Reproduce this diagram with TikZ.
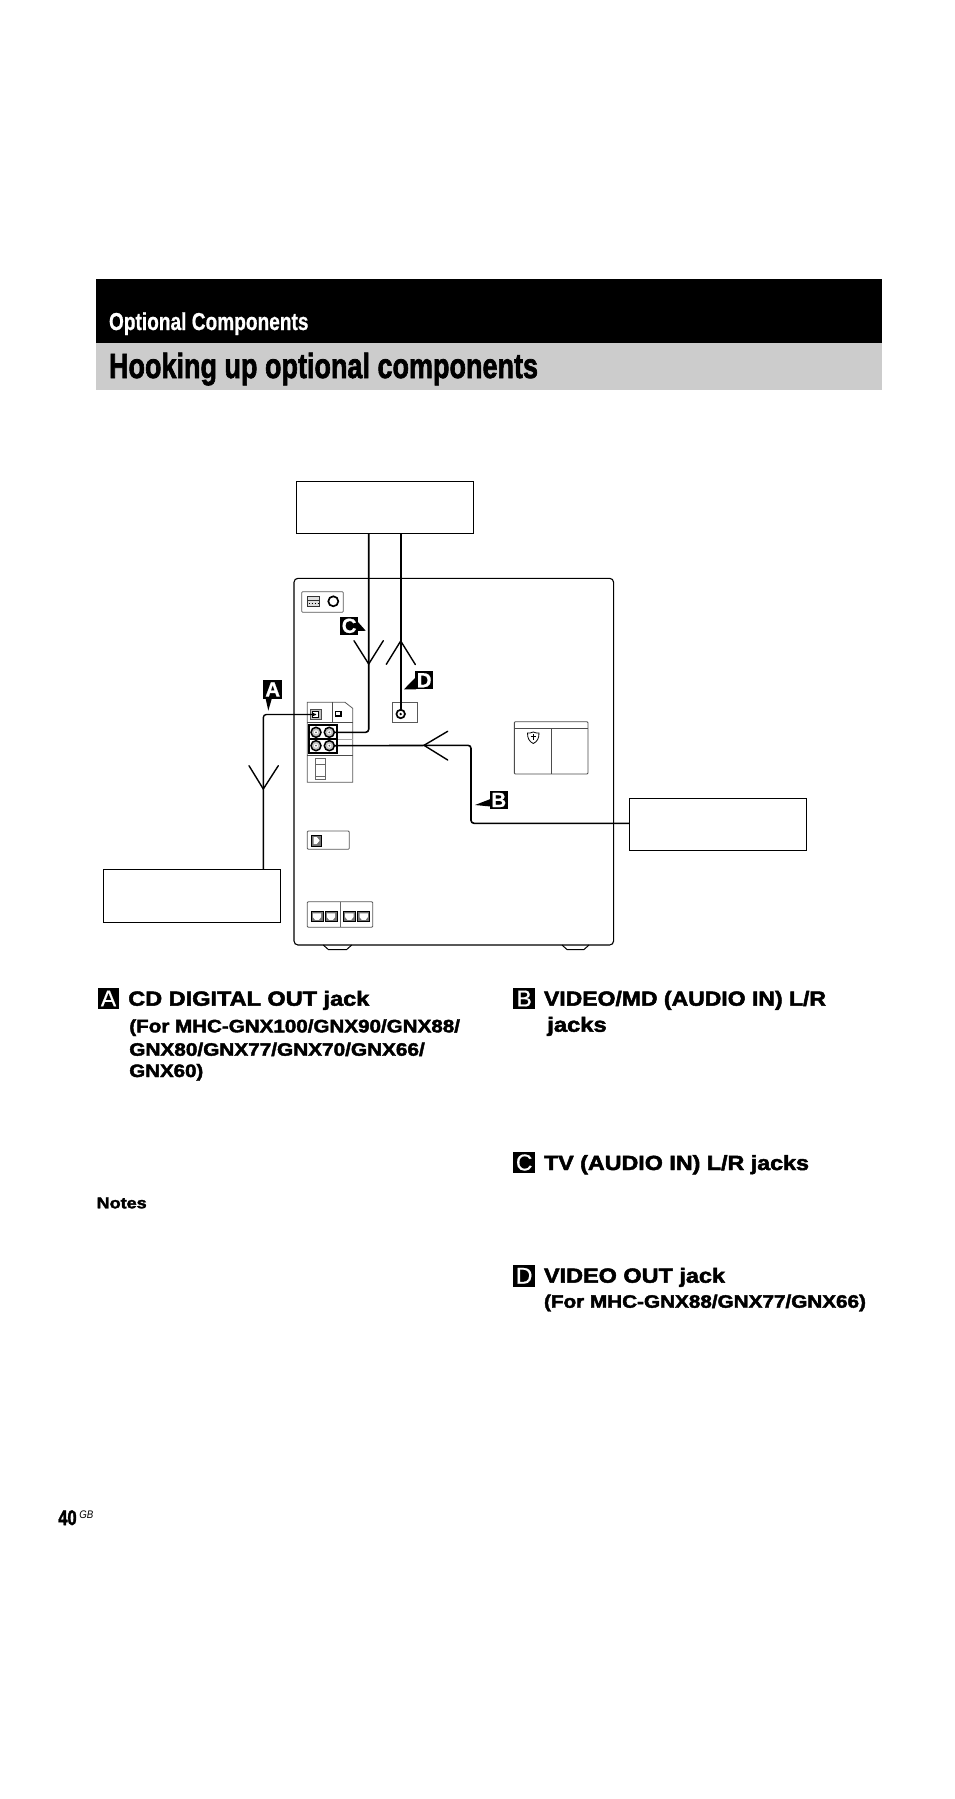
\documentclass[tikz,border=0pt]{standalone}
\usepackage{graphicx}
\usepackage{fontspec}
\setmainfont{Liberation Sans}
\newfontfamily\headf{Liberation Sans}[FakeBold=2.2]
\newfontfamily\condf{Liberation Sans}[FakeBold=0.8]
\newfontfamily\labf{Liberation Sans}[FakeBold=0.6]
\newcommand{\fitw}[2]{\resizebox{#1pt}{\height}{#2}}
\tikzset{
  x=1pt,y=-1pt,
  txt/.style={anchor=base west,inner sep=0pt,outer sep=0pt},
  hd/.style={txt,font=\headf\bfseries\fontsize{20.5}{20.5}\selectfont},
  sub/.style={txt,font=\headf\bfseries\fontsize{18}{18}\selectfont},
  boxo/.style={draw=black,line width=1pt,inner sep=0pt,outer sep=0pt},
  blank/.style={boxo,fill=white},
  panel/.style={draw=black!65,line width=.8pt,rounded corners=1pt},
  cable/.style={draw=black,line width=1.6pt,rounded corners=3pt},
  vee/.style={draw=black,line width=1.4pt,line cap=round,line join=miter},
  jack/.style={circle,draw=black,line width=1.1pt,inner sep=0pt,outer sep=0pt},
  lab/.style={fill=black,text=white,inner sep=0pt,outer sep=0pt,font=\labf\bfseries\fontsize{20.5}{20.5}\selectfont,anchor=center},
  key/.style={lab,minimum size=21.6pt,font=\labf\fontsize{23}{23}\selectfont},
  tag/.style={lab,minimum size=18.5pt},
}
\begin{document}
\begin{tikzpicture}
\useasboundingbox (0,0) rectangle (954,1799);
% header
\fill[black] (96,278.7) rectangle (882,343);
\fill[black!20] (96,343) rectangle (882,390);
\node[txt,text=white,font=\condf\bfseries\fontsize{24.5}{24.5}\selectfont] (h1) at (109,330) {\fitw{199.5}{Optional Components}};
\node[txt,font=\headf\bfseries\fontsize{35}{35}\selectfont] (h2) at (109,378) {\fitw{429}{Hooking up optional components}};
% external boxes
\node[blank,minimum width=177.7pt,minimum height=51.6pt] (tv) at (384.9,507.5) {};
\node[blank,minimum width=176.6pt,minimum height=52.7pt] (vid) at (718,824.6) {};
\node[blank,minimum width=176.8pt,minimum height=52.8pt] (cd) at (191.6,895.8) {};
% main unit
\draw[line width=1.1pt,rounded corners=4pt,fill=white] (294,578.3) rectangle (613.6,945);
\draw[line width=1pt] (323.3,945) -- (328.3,949.5) -- (346.7,949.5) -- (351.7,945);
\draw[line width=1pt] (562,945) -- (567,949.5) -- (584,949.5) -- (589,945);
% top-left small panel
\draw[panel] (301.7,591.7) rectangle (343.3,612.3);
\draw[line width=.8pt,draw=black!80,fill=black!12] (307,596) rectangle (319,606);
\draw[line width=.7pt,draw=black!80] (307,600.5) -- (319,600.5);
\draw[line width=1.1pt,dash pattern=on 1.5pt off 1.5pt] (308.5,603.5) -- (318,603.5);
\node[jack,line width=1.7pt,minimum size=10pt] (ring) at (333.3,601.3) {};
% rear panel group
\draw[panel,rounded corners=0pt] (307.3,702.3) -- (345,702.3) -- (352.7,708.3) -- (352.7,782.3) -- (307.3,782.3) -- cycle;
\draw[draw=black!70,line width=.8pt] (332.3,702.3) -- (332.3,722.3) (307.3,722.3) -- (352.7,722.3) (307.3,755) -- (352.7,755);
\draw[draw=black!35,line width=.8pt] (337.3,739) -- (352.7,739);
\draw[draw=black!70,line width=.9pt,fill=black!25] (310,709) rectangle (321,719);
\draw[line width=.8pt,fill=white] (312,711) rectangle (318.5,717);
\node[draw=black,line width=1.4pt,minimum width=5.5pt,minimum height=4.5pt,inner sep=0pt] (sq) at (338.3,713.7) {};
\draw[line width=1.7pt,fill=white] (309.3,725) rectangle (337.3,752.7);
\draw[line width=1.5pt] (309.3,739) -- (337.3,739);
\foreach \n/\x/\y in {a/316/732.3,b/329.3/732.3,c/316/745.7,d/329.3/745.7}{
  \node[jack,line width=1.5pt,minimum size=10pt,fill=black!25] (rca\n) at (\x,\y) {};
  \fill[white] (\x,\y) circle (2.1pt);
  \fill[black!60] (\x,\y) circle (1pt);
}
% slider
\draw[draw=black!60,line width=.8pt] (315.7,758) rectangle (325,779.3) (315.7,764) -- (325,764) (315.7,776) -- (325,776);
% middle small panel
\draw[panel] (307.3,831) rectangle (349.3,849.3);
\draw[fill=black!55,draw=black,line width=1pt] (311.7,835) rectangle (321.7,846);
\fill[white] (313.7,837) -- (316.7,837) -- (319.7,840.5) -- (316.7,844) -- (313.7,844) -- cycle;
% bottom panel
\draw[panel] (307.3,901.7) rectangle (372.7,927.3);
\draw[draw=black!60,line width=.8pt] (340,901.7) -- (340,927.3);
\foreach \x in {311,325,343.3,357.7}{
  \draw[line width=1pt,fill=black!55] (\x,911.7) rectangle ++(12,10);
  \fill[white] (\x+1.8,913.3) -- (\x+10.2,913.3) -- (\x+10.2,917) -- (\x+8,919.8) -- (\x+4,919.8) -- (\x+1.8,917) -- cycle;
}
% right-hand panel
\draw[line width=.9pt,draw=black!70,rounded corners=1pt] (514.3,721.7) rectangle (588,774);
\draw[line width=.9pt,draw=black!70] (514.3,728.3) -- (588,728.3) (551.7,728.3) -- (551.7,774);
\draw[line width=.8pt] (533.3,732) .. controls (530.5,733.5) and (528.5,733) .. (527.5,733) .. controls (527.5,738) and (529,741.5) .. (533.3,743.5) .. controls (537.5,741.5) and (539,738) .. (539,733) .. controls (538,733) and (536,733.5) .. (533.3,732) -- cycle;
\draw[line width=1pt] (533.3,734) -- (533.3,740) (530.5,736) -- (536,736);
% D jack
\draw[draw=black!65,line width=.8pt] (392.3,702.3) rectangle (417.3,722.3);
\node[jack,line width=1.7pt,minimum size=8.5pt] (vout) at (400.7,714) {};
% connectors
\coordinate (tipC) at (368.7,664);
\coordinate (tipD) at (400.7,641);
\coordinate (tipB) at (424,745.3);
\coordinate (tipA) at (263.3,789);
\coordinate (jackA) at (316,714.5);
\draw[cable] (tv.south -| tipC) -- (tipC |- rcab) -- (rcab.east);
\draw[cable,line width=2pt] (tv.south -| tipD) -- (vout);
\fill[black] (vout) circle (1.3pt);
\draw[cable] (rcad.east) -- (471,745.3) -- (471,823.3) -- (vid.west |- 471,823.3);
\draw[cable,line width=1.4pt] (jackA) -- (tipA |- jackA) -- (tipA |- cd.north);
\fill[black] (316,714.5) -- (312.5,712.5) -- (312.5,716.5) -- cycle;
\draw[vee] (354,640.7) -- (tipC) -- (383.3,640.7);
\draw[vee] (386.3,664.3) -- (tipD) -- (415.3,664.5);
\draw[vee] (447.7,731.3) -- (tipB) -- (447.7,760);
\draw[vee] (249,765.7) -- (tipA) -- (278.3,765.7);
% callouts
\node[tag] (tA) at (272.7,689.5) {A};
\fill[black] (265.5,698) -- (268.3,710.7) -- (272,698) -- cycle;
\node[tag] (tC) at (349.2,625.8) {C};
\fill[black] (357.5,621.5) -- (365.7,630.7) -- (357.5,631) -- cycle;
\node[tag] (tD) at (424.2,680.2) {D};
\fill[black] (416,677) -- (404,689.3) -- (416,689.3) -- cycle;
\node[tag] (tB) at (498.8,800) {B};
\fill[black] (490.5,799) -- (475,805) -- (490.5,806.5) -- cycle;
% descriptions
\node[key] (kA) at (108.5,998.5) {A};
\node[hd] (a1) at (128.3,1005.7) {\fitw{241}{CD DIGITAL OUT jack}};
\node[sub] (a2) at (129.3,1032.3) {\fitw{330.7}{(For MHC-GNX100/GNX90/GNX88/}};
\node[sub] (a3) at (129.3,1055.7) {\fitw{295.5}{GNX80/GNX77/GNX70/GNX66/}};
\node[sub] (a4) at (129.3,1077) {\fitw{74}{GNX60)}};
\node[txt,font=\headf\bfseries\fontsize{15.5}{15.5}\selectfont] (nt) at (96.7,1208.3) {\fitw{50}{Notes}};
\node[key] (kB) at (524.2,998.5) {B};
\node[hd] (b1) at (544,1005.7) {\fitw{282}{VIDEO/MD (AUDIO IN) L/R}};
\node[hd] (b2) at (547.3,1031.7) {\fitw{59.4}{jacks}};
\node[key] (kC) at (524.2,1162.5) {C};
\node[hd] (c1) at (544,1170) {\fitw{265}{TV (AUDIO IN) L/R jacks}};
\node[key] (kD) at (524.2,1275.8) {D};
\node[hd] (d1) at (544,1282.7) {\fitw{181}{VIDEO OUT jack}};
\node[sub] (d2) at (544,1307.7) {\fitw{322}{(For MHC-GNX88/GNX77/GNX66)}};
% page number
\node[txt,font=\headf\bfseries\fontsize{21}{21}\selectfont] (pg) at (58.3,1525) {\fitw{18.4}{40}};
\node[txt,font=\itshape\fontsize{11}{11}\selectfont] (pgs) at (79.3,1518) {\fitw{14}{GB}};
\end{tikzpicture}
\end{document}
